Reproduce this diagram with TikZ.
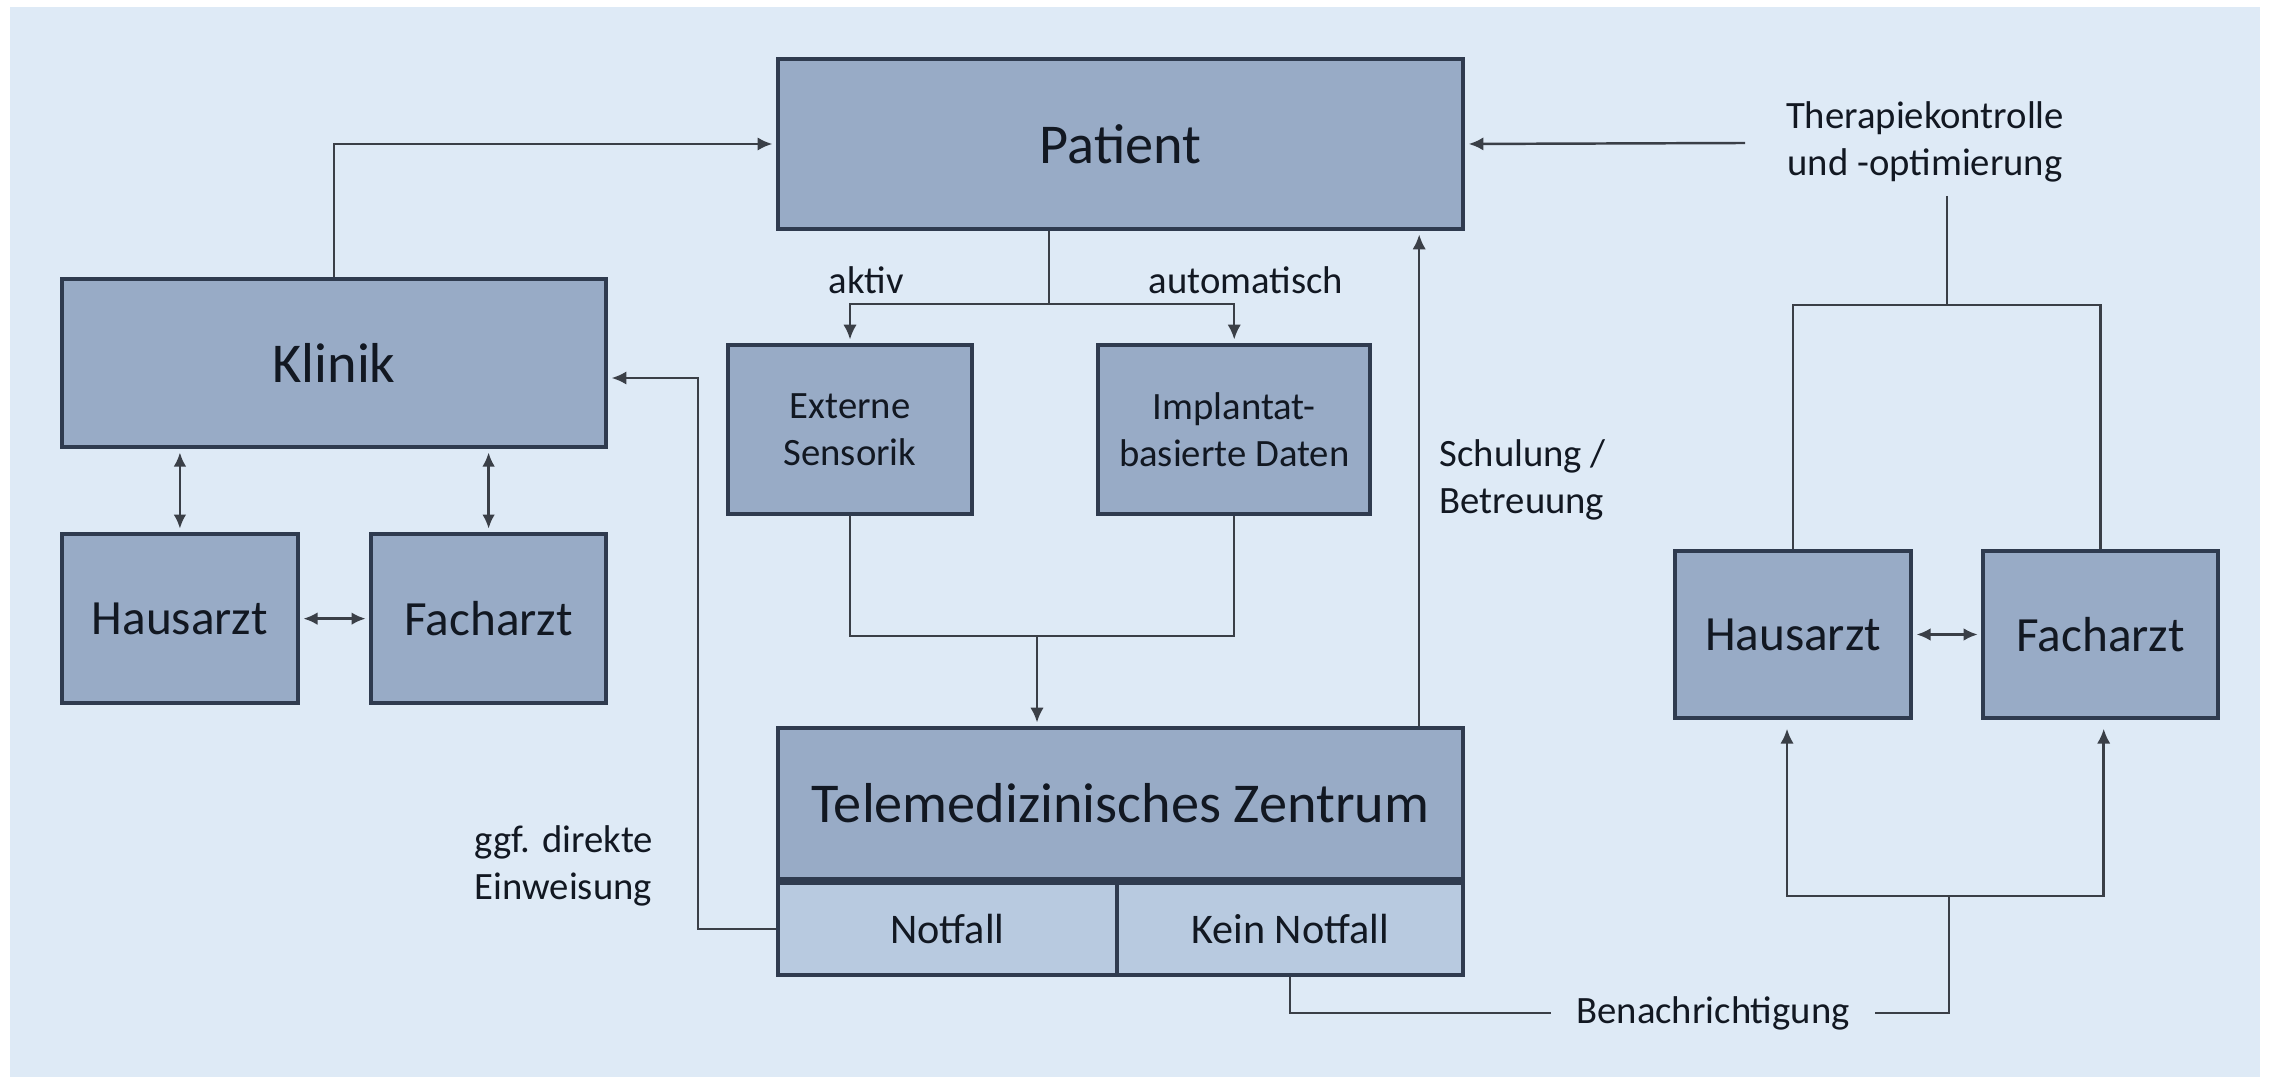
\documentclass[tikz,border=0pt]{standalone}
\usepackage{fontspec}
\setmainfont{Carlito}
\usetikzlibrary{positioning, arrows.meta}
\definecolor{bgblue}{HTML}{DEEAF6}
\definecolor{boxfill}{HTML}{98ABC6}
\definecolor{sectfill}{HTML}{B8CAE0}
\definecolor{boxline}{HTML}{2F3B4F}
\definecolor{linegray}{HTML}{3A3F47}
\definecolor{txt}{HTML}{121822}
\tikzstyle{box} = [draw=boxline, line width=1.1pt, fill=boxfill, text=txt, align=center, inner sep=0pt]
\tikzstyle{sect} = [box, fill=sectfill, font=\fontsize{12}{14}\selectfont, minimum height=0.92cm]
\tikzstyle{conn} = [draw=linegray, line width=0.7pt]
\tikzstyle{arrow} = [conn, -{Latex[length=4.2pt,width=3.8pt]}, shorten >=1pt]
\tikzstyle{darrow} = [conn, {Latex[length=4pt,width=3.6pt]}-{Latex[length=4pt,width=3.6pt]}, shorten >=1pt, shorten <=1pt]
\tikzstyle{lbl} = [text=txt, font=\fontsize{11}{13.3}\selectfont, inner sep=0pt]

\begin{document}
\begin{tikzpicture}[x=0.01cm, y=-0.01cm, on grid]
    \fill[white] (0,0) rectangle (2280,1077);
    \fill[bgblue] (10,7) rectangle (2260,1077);

    % boxes
    \node[box, minimum width=6.85cm, minimum height=1.7cm, font=\fontsize{16}{19}\selectfont] (patient) at (1120.5,144) {Patient};
    \node[box, minimum width=5.44cm, minimum height=1.68cm, font=\fontsize{16}{19}\selectfont] (klinik) at (334,363) {Klinik};
    \node[box, minimum width=2.36cm, minimum height=1.69cm, font=\fontsize{14}{17}\selectfont] (hausL) [below left=2.555cm and 1.54cm of klinik] {Hausarzt};
    \node[box, minimum width=2.35cm, minimum height=1.69cm, font=\fontsize{14}{17}\selectfont] (fachL) [right=3.085cm of hausL] {Facharzt};
    \node[box, minimum width=2.44cm, minimum height=1.69cm, font=\fontsize{11}{13.3}\selectfont] (extern) at (850,429.5) {Externe\\Sensorik};
    \node[box, minimum width=2.72cm, minimum height=1.69cm, font=\fontsize{11}{13.3}\selectfont] (implant) [right=3.84cm of extern] {Implantat-\\basierte Daten};
    \node[box, minimum width=6.85cm, minimum height=1.51cm, font=\fontsize{16}{19}\selectfont] (telemed) at (1120.5,803.5) {Telemedizinisches Zentrum};
    \node[sect, minimum width=3.39cm, anchor=north west] (notfall) at (telemed.south west) {Notfall};
    \node[sect, minimum width=3.46cm, anchor=north east] (keinnot) at (telemed.south east) {Kein Notfall};
    \node[box, minimum width=2.36cm, minimum height=1.67cm, font=\fontsize{14}{17}\selectfont] (hausR) at (1793,634.5) {Hausarzt};
    \node[box, minimum width=2.35cm, minimum height=1.67cm, font=\fontsize{14}{17}\selectfont] (fachR) [right=3.075cm of hausR] {Facharzt};

    % labels
    \node[lbl] (aktiv) at (866,280) {aktiv};
    \node[lbl] (automatisch) at (1246,280) {automatisch};
    \node[lbl, align=left, anchor=west] (schulung) at (1439,480) {Schulung /\\Betreuung};
    \node[lbl, align=left, anchor=west] (einweisung) at (474,866) {ggf. direkte\\Einweisung};
    \node[lbl, align=center] (therapie) at (1925,142) {Therapiekontrolle\\und -optimierung};
    \node[lbl, inner xsep=0.25cm] (benach) at (1713,1013) {Benachrichtigung};

    \coordinate (pb) at (1049,304);
    \coordinate (mg) at (1037,636);
    \coordinate (thp) at (1745,143);
    \coordinate (thd) at (1947,196);
    \coordinate (thb) at (1947,305);
    \coordinate (nb) at (1949,896);

    % connectors
    \draw[arrow] (klinik.north) |- (patient.west);
    \draw[arrow] (thp) -- (patient.east);
    \draw[conn] (pb |- patient.south) -- (pb);
    \draw[arrow] (pb) -| (extern.north);
    \draw[arrow] (pb) -| (implant.north);
    \draw[conn] (extern.south) |- (implant.south |- mg) -- (implant.south);
    \draw[arrow] (mg) -- (mg |- telemed.north);
    \draw[arrow] ([xshift=2.985cm]telemed.north) -- ([xshift=2.985cm]patient.south);
    \draw[arrow] (notfall.west) -- ++(-78,0) |- ([yshift=-0.15cm]klinik.east);
    \draw[darrow] (klinik.south -| hausL) -- (hausL.north);
    \draw[darrow] (klinik.south -| fachL) -- (fachL.north);
    \draw[darrow] (hausL) -- (fachL);
    \draw[darrow] (hausR) -- (fachR);
    \draw[conn] (thd) -- (thb);
    \draw[conn] (hausR.north) |- (thb) -| (fachR.north);
    \draw[conn] (keinnot.south) |- (benach.west);
    \draw[conn] (benach.east) -| (nb);
    \draw[arrow, shorten >=2.5pt] (nb) -| ([xshift=-0.06cm]hausR.south);
    \draw[arrow, shorten >=2.5pt] (nb) -| ([xshift=0.03cm]fachR.south);
\end{tikzpicture}
\end{document}
